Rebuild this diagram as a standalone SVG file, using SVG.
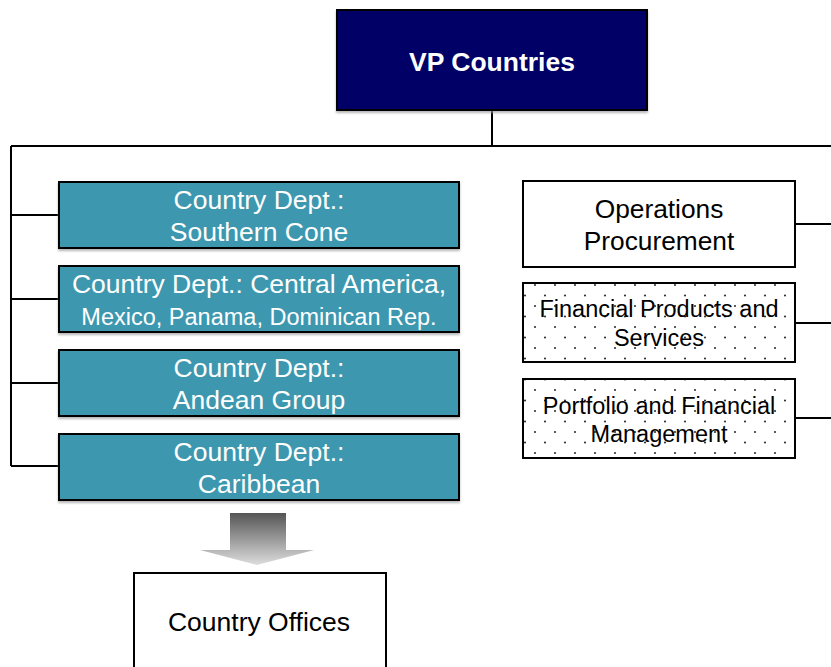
<svg xmlns="http://www.w3.org/2000/svg" width="831" height="667" viewBox="0 0 831 667">
<defs>
<pattern id="dots" x="0" y="0" width="20" height="21" patternUnits="userSpaceOnUse">
<circle cx="15" cy="12" r="1.1" fill="#333"/>
<circle cx="5" cy="1.5" r="1.1" fill="#333"/>
</pattern>
<linearGradient id="arrowGrad" x1="0" y1="0" x2="0" y2="1">
<stop offset="0" stop-color="#555"/>
<stop offset="1" stop-color="#ddd"/>
</linearGradient>
<filter id="sh" x="-5%" y="-5%" width="110%" height="115%">
<feDropShadow dx="0" dy="2" stdDeviation="0.8" flood-color="#999" flood-opacity="0.7"/>
</filter>
</defs>
<style>
.ln{stroke:#000;stroke-width:2;fill:none}
.teal{fill:#3E97AE;stroke:#000;stroke-width:2}
.wbox{fill:#fff;stroke:#000;stroke-width:2}
.dbox{fill:url(#dots);stroke:#000;stroke-width:2}
.tw{font-family:"Liberation Sans",Arial,sans-serif;fill:#fff;text-anchor:middle}
.tb{font-family:"Liberation Sans",Arial,sans-serif;fill:#000;text-anchor:middle}
</style>
<rect width="831" height="667" fill="#fff"/>
<g id="connectors">
<path class="ln" d="M492,110 V146 M11,146 H831 M11,146 V466 M11,215 H59 M11,299 H59 M11,383 H59 M11,466 H59 M795,224 H831 M795,323 H831 M795,418 H831"/>
<path d="M230,513 H286 V550 H314 L257,565 L200,550 H230 Z" fill="url(#arrowGrad)"/>
</g>
<g id="vp">
<rect x="337" y="10" width="310" height="100" fill="#000066" stroke="#000" stroke-width="2" filter="url(#sh)"/>
<text class="tw" x="492" y="71" font-size="26.5" font-weight="bold">VP Countries</text>
</g>
<g id="southern">
<rect class="teal" x="59" y="182" width="400" height="66" filter="url(#sh)"/>
<text class="tw" x="259" y="209" font-size="26.5">Country Dept.:</text>
<text class="tw" x="259" y="241" font-size="26.5">Southern Cone</text>
</g>
<g id="central">
<rect class="teal" x="59" y="266" width="400" height="66" filter="url(#sh)"/>
<text class="tw" x="259" y="293" font-size="26.5">Country Dept.: Central America,</text>
<text class="tw" x="259" y="325" font-size="23.5">Mexico, Panama, Dominican Rep.</text>
</g>
<g id="andean">
<rect class="teal" x="59" y="350" width="400" height="66" filter="url(#sh)"/>
<text class="tw" x="259" y="377" font-size="26.5">Country Dept.:</text>
<text class="tw" x="259" y="409" font-size="26.5">Andean Group</text>
</g>
<g id="caribbean">
<rect class="teal" x="59" y="434" width="400" height="66" filter="url(#sh)"/>
<text class="tw" x="259" y="461" font-size="26.5">Country Dept.:</text>
<text class="tw" x="259" y="493" font-size="26.5">Caribbean</text>
</g>
<g id="operations">
<rect class="wbox" x="523" y="181" width="272" height="86"/>
<text class="tb" x="659" y="218" font-size="26.3">Operations</text>
<text class="tb" x="659" y="250" font-size="26.3">Procurement</text>
</g>
<g id="financial">
<rect class="dbox" x="523" y="283" width="272" height="79"/>
<text class="tb" x="659" y="317" font-size="23.5">Financial Products and</text>
<text class="tb" x="659" y="346" font-size="23.5">Services</text>
</g>
<g id="portfolio">
<rect class="dbox" x="523" y="379" width="272" height="79"/>
<text class="tb" x="659" y="414" font-size="23.5">Portfolio and Financial</text>
<text class="tb" x="659" y="442" font-size="23.5">Management</text>
</g>
<g id="offices">
<rect class="wbox" x="134" y="573" width="252" height="100"/>
<text class="tb" x="259" y="631" font-size="26.5">Country Offices</text>
</g>
</svg>
